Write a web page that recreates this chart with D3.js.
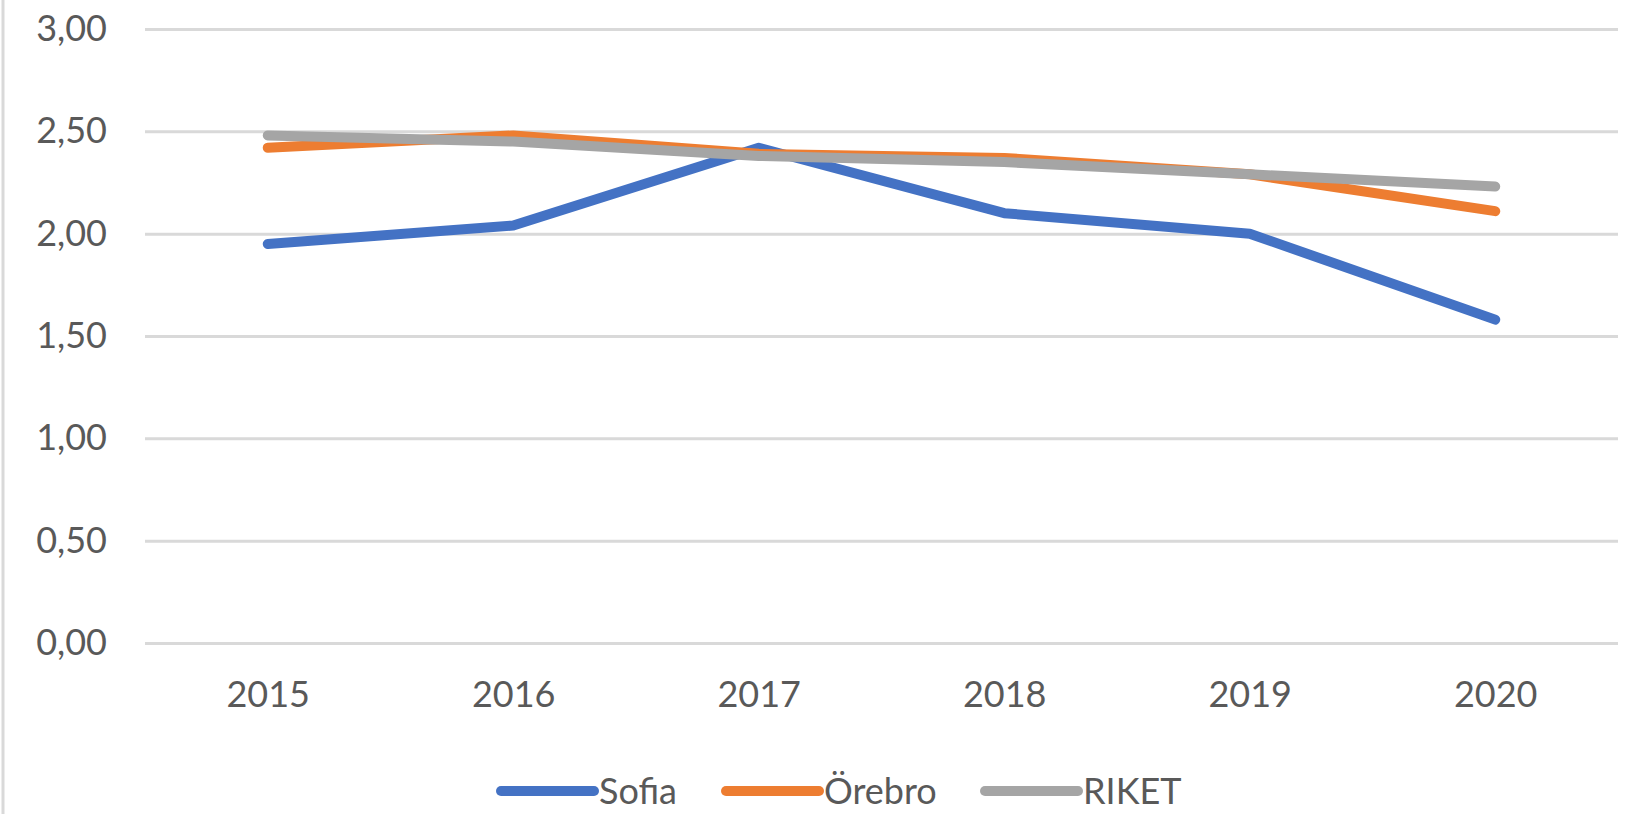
<!DOCTYPE html>
<html>
<head>
<meta charset="utf-8">
<script src="https://cdn.jsdelivr.net/npm/d3@7/dist/d3.min.js"></script>
<style>
  html, body { margin: 0; padding: 0; background: #fff; }
  svg { display: block; }
  text { font-family: Lato, "Open Sans", sans-serif; fill: #595959; }
</style>
</head>
<body>
<script>
const years = ["2015", "2016", "2017", "2018", "2019", "2020"];
const seriesNames = ["Sofia", "Örebro", "RIKET"];
const sofia = [1.95, 2.04, 2.42, 2.10, 2.00, 1.58];
const orebro = [2.42, 2.48, 2.39, 2.37, 2.29, 2.11];
const riket = [2.48, 2.45, 2.38, 2.35, 2.29, 2.23];
const yTicks = [0, 0.5, 1, 1.5, 2, 2.5, 3];

const colors = ["#4472C4", "#ED7D31", "#A5A5A5"];
const series = [sofia, orebro, riket];

const w = 1626;
const h = 814;
const plotLeft = 145;
const plotRight = 1618;
const plotTop = 29;
const plotBottom = 643;

const sv = d3.formatLocale({ decimal: ",", thousands: " ", grouping: [3], currency: ["", " kr"] });
const fmt = sv.format(".2f");

const svg = d3
    .select("body")
    .append("svg")
    .attr("width", w)
    .attr("height", h);

// left border of the chart area
svg
    .append("line")
    .attr("x1", 3)
    .attr("x2", 3)
    .attr("y1", 0)
    .attr("y2", h)
    .attr("stroke", "#d9d9d9")
    .attr("stroke-width", 3);

const x = d3.scalePoint().domain(years).range([plotLeft, plotRight]).padding(0.5);
const y = d3.scaleLinear().domain([0, 3]).range([plotBottom, plotTop]);

// y axis with gridlines
const yAxis = svg
    .append("g")
    .attr("transform", `translate(${plotLeft},0)`)
    .call(
        d3
            .axisLeft(y)
            .tickValues(yTicks)
            .tickSize(-(plotRight - plotLeft))
            .tickPadding(38)
            .tickFormat(fmt),
    );
yAxis.select(".domain").remove();
yAxis.selectAll(".tick line").attr("stroke", "#d9d9d9").attr("stroke-width", 3);
yAxis
    .selectAll(".tick text")
    .attr("font-size", 36)
    .attr("fill", "#595959")
    .attr("font-family", "Lato, sans-serif");

// x axis labels
const xAxis = svg
    .append("g")
    .attr("transform", `translate(0,${plotBottom})`)
    .call(d3.axisBottom(x).tickSize(0).tickPadding(38));
xAxis.select(".domain").remove();
xAxis
    .selectAll(".tick text")
    .attr("font-size", 36)
    .attr("fill", "#595959")
    .attr("font-family", "Lato, sans-serif");

const line = d3
    .line()
    .x((d, i) => x(years[i]))
    .y(d => y(d));

svg
    .append("g")
    .selectAll("path")
    .data(series)
    .enter()
    .append("path")
    .attr("d", d => line(d))
    .attr("fill", "none")
    .attr("stroke", (d, i) => colors[i])
    .attr("stroke-width", 10)
    .attr("stroke-linecap", "round")
    .attr("stroke-linejoin", "round");

// legend
const legendX = [501, 726, 985];
const legendY = 791;
const legend = svg
    .append("g")
    .selectAll("g")
    .data(seriesNames)
    .enter()
    .append("g")
    .attr("transform", (d, i) => `translate(${legendX[i]},${legendY})`);

legend
    .append("line")
    .attr("x1", 0)
    .attr("x2", 93)
    .attr("y1", 0)
    .attr("y2", 0)
    .attr("stroke", (d, i) => colors[i])
    .attr("stroke-width", 10)
    .attr("stroke-linecap", "round");

legend
    .append("text")
    .attr("x", 98)
    .attr("y", 0)
    .attr("dy", "0.35em")
    .attr("font-size", 36)
    .text(d => d);
</script>
</body>
</html>
